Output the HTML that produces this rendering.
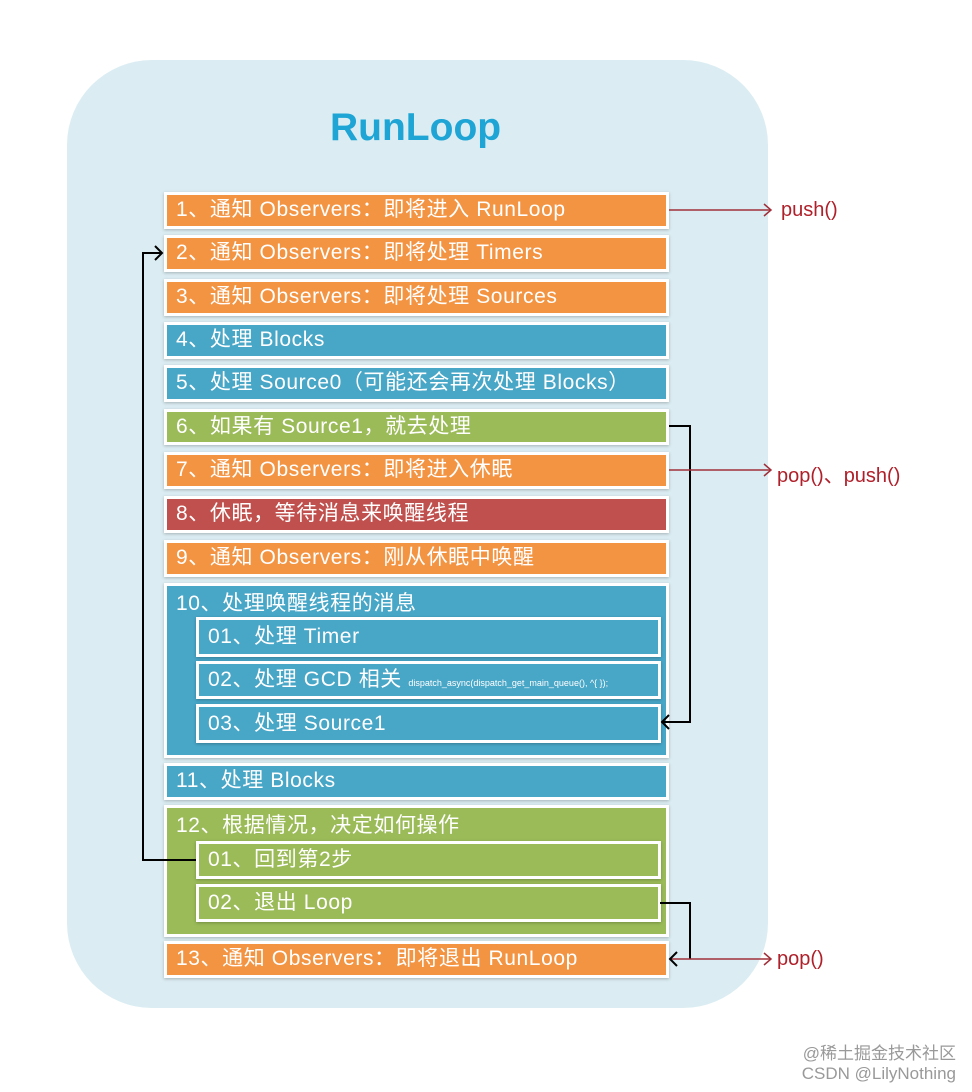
<!DOCTYPE html>
<html><head><meta charset="utf-8"><style>
body{margin:0;width:972px;height:1092px;background:#fff;position:relative;overflow:hidden;font-family:"Liberation Sans","Noto Sans CJK SC",sans-serif}
.panel{position:absolute;left:67px;top:60px;width:701px;height:948px;background:#dbedf2;border-radius:85px}
.t{position:absolute;left:330px;top:106px;font-size:39px;font-weight:bold;color:#1ea5d5}
.b{position:absolute;box-sizing:border-box;border:3px solid #fff;box-shadow:0 1px 3px rgba(0,0,0,.25);color:#fff;font-size:21px;letter-spacing:0.6px;padding-left:9px;line-height:30px;white-space:nowrap}
.o{background:#f39443}.bl{background:#48a6c7}.g{background:#9bbb59}.r{background:#c0504d}
.lab{position:absolute;color:#b0202a;font-size:20px}
</style></head><body>
<div class="panel"></div>
<div class="t">RunLoop</div>
<div class="b o" style="left:164px;top:192px;width:505px;height:37px">1、通知 Observers：即将进入 RunLoop</div>
<div class="b o" style="left:164px;top:235px;width:505px;height:37px">2、通知 Observers：即将处理 Timers</div>
<div class="b o" style="left:164px;top:279px;width:505px;height:37px">3、通知 Observers：即将处理 Sources</div>
<div class="b bl" style="left:164px;top:322px;width:505px;height:37px">4、处理 Blocks</div>
<div class="b bl" style="left:164px;top:365px;width:505px;height:37px">5、处理 Source0（可能还会再次处理 Blocks）</div>
<div class="b g" style="left:164px;top:409px;width:505px;height:36px">6、如果有 Source1，就去处理</div>
<div class="b o" style="left:164px;top:452px;width:505px;height:37px">7、通知 Observers：即将进入休眠</div>
<div class="b r" style="left:164px;top:496px;width:505px;height:37px">8、休眠，等待消息来唤醒线程</div>
<div class="b o" style="left:164px;top:540px;width:505px;height:37px">9、通知 Observers：刚从休眠中唤醒</div>
<div class="b bl" style="left:164px;top:583px;width:505px;height:175px;line-height:36px">10、处理唤醒线程的消息</div>
<div class="b bl" style="left:196px;top:617px;width:465px;height:40px;line-height:34px">01、处理 Timer</div>
<div class="b bl" style="left:196px;top:661px;width:465px;height:38px;line-height:32px">02、处理 GCD 相关 <span style="font-size:9px;letter-spacing:0">dispatch_async(dispatch_get_main_queue(), ^{ });</span></div>
<div class="b bl" style="left:196px;top:704px;width:465px;height:39px;line-height:33px">03、处理 Source1</div>
<div class="b bl" style="left:164px;top:763px;width:505px;height:37px">11、处理 Blocks</div>
<div class="b g" style="left:164px;top:805px;width:505px;height:132px;line-height:36px">12、根据情况，决定如何操作</div>
<div class="b g" style="left:196px;top:841px;width:465px;height:38px;line-height:32px">01、回到第2步</div>
<div class="b g" style="left:196px;top:884px;width:465px;height:38px;line-height:32px">02、退出 Loop</div>
<div class="b o" style="left:164px;top:941px;width:505px;height:37px">13、通知 Observers：即将退出 RunLoop</div>
<svg width="972" height="1092" style="position:absolute;left:0;top:0">
<g fill="none" stroke="#000" stroke-width="2">
<polyline points="196,860 143,860 143,253 162,253"/>
<polyline points="155,246 162,253 155,260"/>
<polyline points="669,426 690,426 690,722 662,722"/>
<polyline points="669,715 662,722 669,729"/>
<polyline points="660,903 690,903 690,959"/>
</g>
<g fill="none" stroke="#a0303a" stroke-width="1.5">
<line x1="669" y1="210" x2="771" y2="210"/><polyline points="764,204 771,210 764,216"/>
<line x1="669" y1="470" x2="771" y2="470"/><polyline points="764,464 771,470 764,476"/>
<line x1="670" y1="959" x2="771" y2="959"/><polyline points="764,953 771,959 764,965"/>
</g>
<polyline points="677,952 670,959 677,966" fill="none" stroke="#000" stroke-width="2"/>
</svg>
<div class="lab" style="left:781px;top:199px">push()</div>
<div class="lab" style="left:777px;top:459px">pop()、push()</div>
<div class="lab" style="left:777px;top:948px">pop()</div>
<div style="position:absolute;right:16px;top:1044px;color:#999;font-size:17px;line-height:20px;text-align:right">@稀土掘金技术社区<br>CSDN @LilyNothing</div>
</body></html>
